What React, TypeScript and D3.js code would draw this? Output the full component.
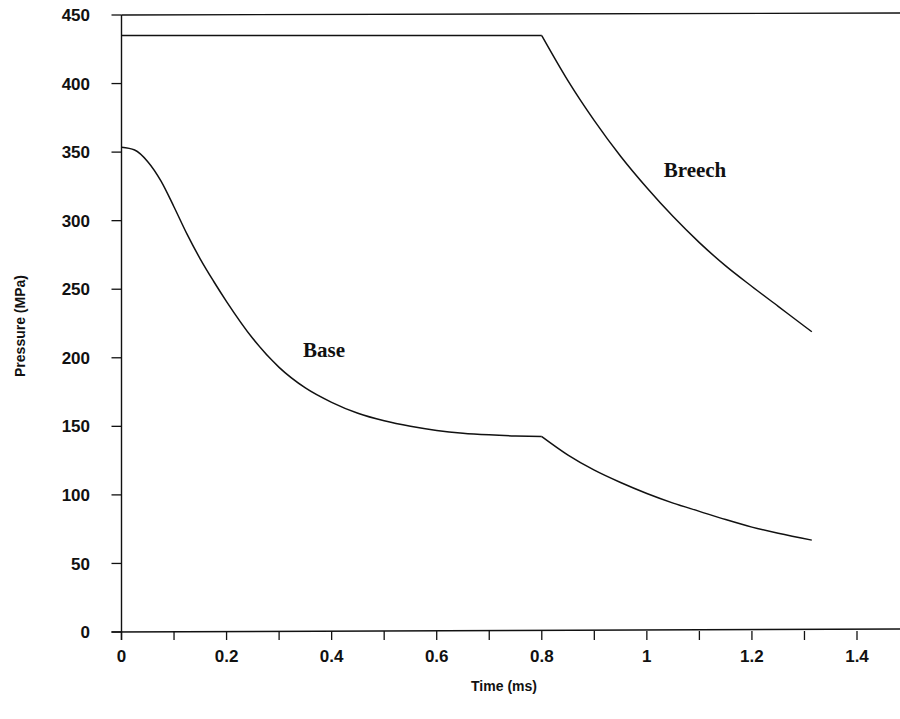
// Pressure vs time — breech and projectile base pressure traces.
import * as d3 from "d3";

const W = 900;
const H = 719;

// the curves have a kink where the projectile leaves (t = 0.8 ms);
// each trace is drawn as two smooth pieces joined there
const KINK = 0.8;

// breech pressure (MPa) over time (ms)
const breechTime = [0, 0.8, 0.85, 0.9, 0.95, 1.0, 1.05, 1.1, 1.15, 1.2, 1.25, 1.3, 1.314];
const breechPressure = [435, 435, 402, 373, 347, 324, 303, 284, 267, 252, 237.5, 223, 219];

// base pressure (MPa) over time (ms)
const baseTime = [0, 0.025, 0.05, 0.075, 0.1, 0.125, 0.15, 0.175, 0.2, 0.25, 0.3, 0.35, 0.4, 0.45, 0.5, 0.55, 0.6, 0.65, 0.7, 0.75, 0.8, 0.85, 0.9, 0.95, 1.0, 1.05, 1.1, 1.15, 1.2, 1.25, 1.314];
const basePressure = [353.5, 351.5, 343, 329, 310, 290, 272, 256, 241, 214, 193, 178, 167.5, 159.5, 154, 150, 147, 145, 143.8, 143, 142.5, 129, 118, 109, 101, 94, 88, 82, 76.5, 72, 67];

const xTicks = [0, 0.1, 0.2, 0.3, 0.4, 0.5, 0.6, 0.7, 0.8, 0.9, 1, 1.1, 1.2, 1.3, 1.4];
const xLabelValues = [0, 0.2, 0.4, 0.6, 0.8, 1, 1.2, 1.4];
const xLabels = ["0", "0.2", "0.4", "0.6", "0.8", "1", "1.2", "1.4"];
const yTicks = [0, 50, 100, 150, 200, 250, 300, 350, 400, 450];

const SANS = "'Liberation Sans', Arial, sans-serif";
const SERIF = "'Liberation Serif', 'Times New Roman', serif";

type Pt = [number, number];

function pieces(ts: number[], ps: number[]): Pt[][] {
  const pts = ts.map((t, i) => [t, ps[i]] as Pt);
  return [pts.filter((d) => d[0] <= KINK), pts.filter((d) => d[0] >= KINK)];
}

export default function App() {
  const x = d3.scaleLinear().domain([0, 1.4]).range([121.5, 857]);
  const y = d3.scaleLinear().domain([0, 450]).range([632, 15]);

  const line = d3
    .line<Pt>()
    .x((d) => x(d[0]))
    .y((d) => y(d[1]))
    .curve(d3.curveMonotoneX);

  const series = [...pieces(breechTime, breechPressure), ...pieces(baseTime, basePressure)];

  const x0 = x(0);
  const y0 = y(0);

  return (
    <div style={{ position: "absolute", left: 0, top: 0 }}>
      <svg width={W} height={H} style={{ display: "block", background: "#fff" }}>
        {/* top boundary at 450 */}
        <line x1={x0} x2={W} y1={y(450)} y2={y(450) - 2} stroke="#111" strokeWidth={1.4} />

        {/* axes */}
        <line x1={x0} x2={x0} y1={y(450)} y2={y0 + 8} stroke="#111" strokeWidth={1.4} />
        <line x1={x0 - 10} x2={W} y1={y0} y2={y0 - 3} stroke="#111" strokeWidth={1.4} />

        {yTicks.map((v) => (
          <g key={`y${v}`}>
            <line x1={x0 - 10} x2={x0} y1={y(v)} y2={y(v)} stroke="#111" strokeWidth={1.3} />
            <text
              x={90}
              y={y(v)}
              dy="0.36em"
              textAnchor="end"
              fontFamily={SANS}
              fontWeight="bold"
              fontSize={17}
              fill="#111"
            >
              {v}
            </text>
          </g>
        ))}

        {xTicks.map((v) => (
          <line key={`xt${v}`} x1={x(v)} x2={x(v)} y1={y0 - 1} y2={y0 + 8} stroke="#111" strokeWidth={1.3} />
        ))}
        {xLabelValues.map((v, i) => (
          <text
            key={`xl${v}`}
            x={x(v)}
            y={662}
            textAnchor="middle"
            fontFamily={SANS}
            fontWeight="bold"
            fontSize={17}
            fill="#111"
          >
            {xLabels[i]}
          </text>
        ))}

        <text x={504} y={691} textAnchor="middle" fontFamily={SANS} fontWeight="bold" fontSize={14} fill="#111">
          Time (ms)
        </text>
        <text
          transform="translate(25,326) rotate(-90)"
          textAnchor="middle"
          fontFamily={SANS}
          fontWeight="bold"
          fontSize={14}
          fill="#111"
        >
          Pressure (MPa)
        </text>

        {/* series */}
        {series.map((pts, i) => (
          <path key={`s${i}`} d={line(pts) ?? ""} fill="none" stroke="#111" strokeWidth={1.5} />
        ))}

        <text x={695} y={177} textAnchor="middle" fontFamily={SERIF} fontWeight="bold" fontSize={21} fill="#111">
          Breech
        </text>
        <text x={324} y={357} textAnchor="middle" fontFamily={SERIF} fontWeight="bold" fontSize={21} fill="#111">
          Base
        </text>
      </svg>
    </div>
  );
}
